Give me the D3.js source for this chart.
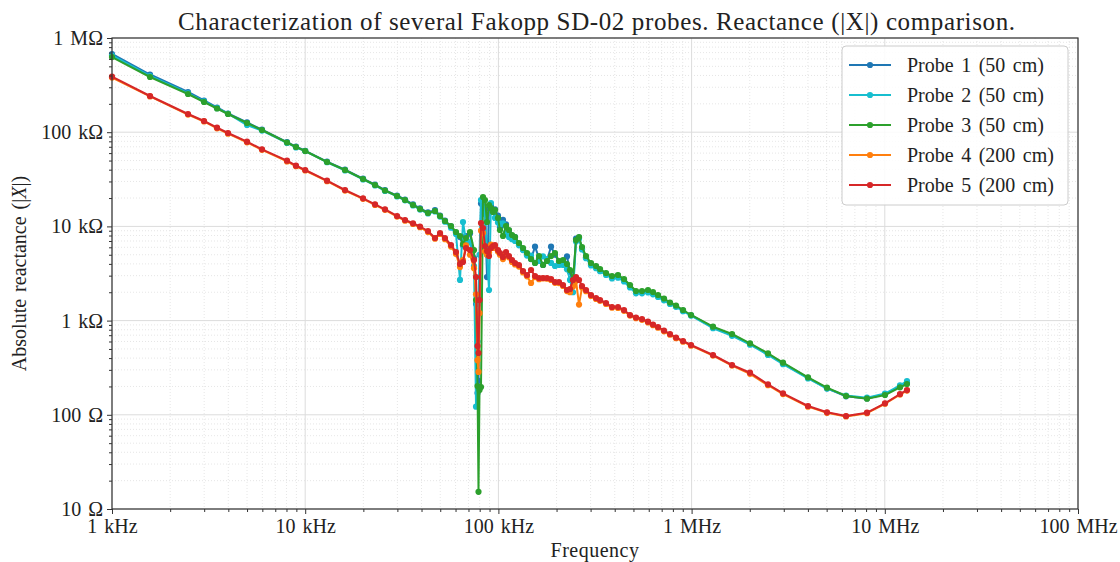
<!DOCTYPE html>
<html>
<head>
<meta charset="utf-8">
<script src="https://cdn.jsdelivr.net/npm/d3@7/dist/d3.min.js"></script>
<style>
  body { margin: 0; background: #fff; }
  text { font-family: "Liberation Serif", "DejaVu Serif", serif; fill: #222; }
</style>
</head>
<body>
<script>
var width = 1120,
    height = 562,
    margin = {top: 38, right: 42, bottom: 53, left: 112};

// sweep frequencies (kHz), shared by all probes
var freqKHz = [1.00, 1.573, 2.474, 2.994, 3.496, 3.985, 4.998, 5.975, 8.05, 8.96,
  10.0, 12.97, 16.07, 19.92, 22.98, 25.88, 29.88, 32.86, 36.14, 39.29,
  43.2, 46.97, 49.87, 52.9, 56.83, 60.32, 63.27, 65.58, 67.97, 71.29,
  74.77, 76.6, 77.97, 78.89, 79.84, 81.27, 83.24, 85.24, 87.3, 89.41,
  91.55, 93.76, 96.02, 99.5, 101.9, 105.6, 109.5, 113.4, 117.6, 121.9,
  127.8, 134.1, 140.6, 147.5, 154.7, 162.3, 170.2, 178.5, 187.3, 196.3,
  205.9, 216, 226.5, 234.8, 243.3, 252.2, 261.4, 270.9, 284.1, 301.5,
  320.1, 335.7, 360.6, 387.3, 415.9, 446.8, 479.9, 515.4, 553.6, 594.7,
  631.2, 670.1, 719.6, 773.0, 830.5, 902.8, 992.9, 1290.5, 1618.9, 2006,
  2485, 2972, 4004, 5021, 6300, 8089, 10023, 11988, 13026];

// absolute reactance |X| (ohm) for each probe
var probe1 = [676300, 409700, 267200, 217000, 183000, 158000, 127000, 106500, 78500, 70200,
  63500, 48600, 40100, 32200, 27800, 24300, 21200, 19300, 17100, 15500,
  14100, 14900, 13000, 11500, 10000, 8600, 7700, 6300, 7900, 8400,
  4600, 1500, 170, 230, 1870, 17500, 19500, 15000, 2900, 15500,
  16500, 14800, 15200, 13000, 9800, 11730, 10500, 9000, 8000, 7700,
  6500, 5700, 5100, 4500, 6090, 4600, 3900, 4400, 6090, 5000,
  4200, 4300, 4800, 3300, 2400, 7400, 7600, 5800, 4700, 4000,
  3750, 3450, 3150, 2900, 3000, 2700, 2330, 2020, 2000, 2050,
  1960, 1830, 1690, 1530, 1420, 1280, 1140, 850, 705, 565,
  440, 352, 247, 191, 157, 149, 165, 200, 218];

var probe2 = [652000, 395000, 259000, 212000, 180000, 157000, 119200, 104000, 77000, 69000,
  63000, 48000, 39300, 31500, 27200, 23800, 20800, 18900, 16700, 15100,
  13700, 14400, 12700, 11200, 9700, 8300, 2700, 11130, 7000, 6800,
  3800, 122, 600, 1500, 5000, 19070, 19800, 13500, 5000, 2113,
  17720, 14500, 12300, 11000, 10500, 10800, 8600, 7700, 7300, 7000,
  6300, 5600, 4900, 4900, 4100, 4300, 4800, 4500, 4100, 3800,
  3900, 3900, 3500, 2700, 2000, 6900, 7400, 5700, 4600, 3850,
  3600, 3350, 3050, 2800, 2850, 2600, 2250, 1950, 1950, 1990,
  1900, 1780, 1640, 1500, 1400, 1260, 1130, 830, 690, 555,
  432, 345, 243, 190, 160, 152, 168, 205, 228];

var probe3 = [628000, 385500, 254400, 209200, 178500, 156100, 125200, 105500, 77760, 69650,
  63160, 48280, 39690, 31860, 27510, 24050, 21020, 19070, 16880, 15300,
  13880, 14570, 12900, 11410, 10100, 8720, 7910, 6505, 7530, 8720,
  5617, 1655, 202, 15.2, 183, 197, 20510, 19070, 11130, 16880,
  15680, 14220, 14930, 12280, 9160, 7910, 10100, 9160, 8100, 7720,
  6665, 5898, 5220, 4507, 4088, 4852, 3892, 4293, 4852, 5220,
  4293, 4399, 3989, 3445, 2698, 7171, 7720, 6044, 4852, 4088,
  3798, 3530, 3201, 2975, 3049, 2764, 2387, 2062, 2062, 2113,
  2012, 1870, 1717, 1556, 1446, 1296, 1147, 861, 720.6, 574.1,
  449.7, 357.4, 250.2, 194, 158.3, 148.2, 162.3, 195.8, 212.3];

var probe4 = [380000, 240000, 154000, 130000, 110000, 96500, 78000, 65000, 49000, 43500,
  39200, 30200, 24000, 19600, 16900, 15000, 12700, 11500, 10600, 9800,
  8700, 7400, 8300, 7300, 6100, 5100, 3700, 4400, 6300, 5000,
  3600, 1900, 380, 285, 1200, 9000, 8500, 5400, 5000, 5300,
  6400, 5900, 6000, 5400, 5000, 4500, 5100, 4700, 4200, 3950,
  3750, 3250, 2950, 2507, 2900, 2750, 2800, 2780, 2700, 2520,
  2500, 2330, 2060, 2000, 2300, 2650, 1480, 2250, 2050, 1830,
  1700, 1620, 1500, 1370, 1360, 1270, 1130, 1060, 1020, 955,
  895, 840, 770, 708, 650, 598, 542, 425, 333, 272,
  206, 166, 122, 105, 96, 104, 131, 164, 181];

var probe5 = [388300, 242300, 156100, 131500, 111600, 98060, 79300, 65840, 49830, 44100,
  39690, 30560, 24340, 19880, 17160, 15190, 12900, 11690, 10790, 9975,
  8936, 7530, 8511, 7530, 6347, 5349, 3989, 4190, 5898, 5617,
  4399, 2903, 537.6, 453.1, 1655, 10870, 9616, 6194, 5482, 4852,
  5898, 6194, 6347, 5617, 5220, 4733, 5349, 4852, 4399, 4088,
  3892, 3361, 3049, 3445, 2975, 2833, 2833, 2833, 2764, 2569,
  2569, 2387, 2113, 2165, 2698, 2903, 2698, 2329, 2113, 1870,
  1738, 1655, 1537, 1394, 1394, 1296, 1147, 1079, 1040, 973.4,
  909, 855.2, 785, 720.6, 661.6, 607.4, 550.8, 431.3, 337.8, 279.8,
  210.8, 169.1, 124, 106.3, 97.1, 105.3, 132.5, 166.3, 183];

var probeNames = ['Probe 1 (50 cm)', 'Probe 2 (50 cm)', 'Probe 3 (50 cm)', 'Probe 4 (200 cm)', 'Probe 5 (200 cm)'];
var probeColors = ['#1f77b4', '#17becf', '#2ca02c', '#ff7f0e', '#d62728'];
var probeValues = [probe1, probe2, probe3, probe4, probe5];

var xTicks = [1e3, 1e4, 1e5, 1e6, 1e7, 1e8];
var xTickLabels = ['1 kHz', '10 kHz', '100 kHz', '1 MHz', '10 MHz', '100 MHz'];
var yTicks = [10, 100, 1e3, 1e4, 1e5, 1e6];
var yTickLabels = ['10 \u03a9', '100 \u03a9', '1 k\u03a9', '10 k\u03a9', '100 k\u03a9', '1 M\u03a9'];

var x = d3.scaleLog().domain([1e3, 1e8]).range([margin.left, width - margin.right]);
var y = d3.scaleLog().domain([10, 1e6]).range([height - margin.bottom, margin.top]);

function minors(ticks) {
  var out = [];
  for (var i = 0; i < ticks.length - 1; i++)
    for (var k = 2; k < 10; k++) out.push(ticks[i] * k);
  return out;
}
var xMinor = minors(xTicks), yMinor = minors(yTicks);

var svg = d3.select('body').append('svg')
    .attr('width', width)
    .attr('height', height);

var x0 = margin.left, x1 = width - margin.right,
    y0 = margin.top, y1 = height - margin.bottom;

// grid
var grid = svg.append('g');
grid.selectAll('.xm').data(xMinor).enter().append('line')
    .attr('x1', d => x(d)).attr('x2', d => x(d)).attr('y1', y0).attr('y2', y1)
    .attr('stroke', '#e0e0e0').attr('stroke-width', 0.8).attr('stroke-dasharray', '1,2');
grid.selectAll('.ym').data(yMinor).enter().append('line')
    .attr('y1', d => y(d)).attr('y2', d => y(d)).attr('x1', x0).attr('x2', x1)
    .attr('stroke', '#e0e0e0').attr('stroke-width', 0.8).attr('stroke-dasharray', '1,2');
grid.selectAll('.xM').data(xTicks).enter().append('line')
    .attr('x1', d => x(d)).attr('x2', d => x(d)).attr('y1', y0).attr('y2', y1)
    .attr('stroke', '#dcdcdc').attr('stroke-width', 1);
grid.selectAll('.yM').data(yTicks).enter().append('line')
    .attr('y1', d => y(d)).attr('y2', d => y(d)).attr('x1', x0).attr('x2', x1)
    .attr('stroke', '#dcdcdc').attr('stroke-width', 1);

// series
var line = d3.line()
    .x(function(d, i) { return x(freqKHz[i] * 1000); })
    .y(function(d) { return y(d); });

probeValues.forEach(function(vals, p) {
  var g = svg.append('g');
  g.append('path').datum(vals)
      .attr('d', line)
      .attr('fill', 'none')
      .attr('stroke', probeColors[p])
      .attr('stroke-width', 2)
      .attr('stroke-linejoin', 'round');
  g.selectAll('circle').data(vals).enter().append('circle')
      .attr('cx', function(d, i) { return x(freqKHz[i] * 1000); })
      .attr('cy', function(d) { return y(d); })
      .attr('r', 3.1)
      .attr('fill', probeColors[p]);
});

// axes
var xAxis = svg.append('g').attr('transform', 'translate(0,' + y1 + ')')
    .call(d3.axisBottom(x).tickValues(xTicks).tickFormat(function(d, i) { return xTickLabels[i]; }).tickSize(5).tickPadding(2));
svg.append('g').attr('transform', 'translate(0,' + y1 + ')')
    .call(d3.axisBottom(x).tickValues(xMinor).tickFormat('').tickSize(3));
var yAxis = svg.append('g').attr('transform', 'translate(' + x0 + ',0)')
    .call(d3.axisLeft(y).tickValues(yTicks).tickFormat(function(d, i) { return yTickLabels[i]; }).tickSize(5).tickPadding(4));
svg.append('g').attr('transform', 'translate(' + x0 + ',0)')
    .call(d3.axisLeft(y).tickValues(yMinor).tickFormat('').tickSize(3));

svg.selectAll('.domain').remove();
svg.selectAll('.tick line').attr('stroke', '#333');
svg.selectAll('.tick text').attr('font-size', 20).attr('font-family', '"Liberation Serif", serif')
    .attr('fill', '#222').attr('word-spacing', 2);
xAxis.selectAll('.tick text').attr('dy', '0.85em');

// frame
svg.append('rect')
    .attr('x', x0).attr('y', y0).attr('width', x1 - x0).attr('height', y1 - y0)
    .attr('fill', 'none').attr('stroke', '#333').attr('stroke-width', 1.2);

// labels
svg.append('text')
    .attr('x', 596.5).attr('y', 30)
    .attr('text-anchor', 'middle').attr('font-size', 25)
    .attr('textLength', 837).attr('lengthAdjust', 'spacing')
    .text('Characterization of several Fakopp SD-02 probes. Reactance (|X|) comparison.');

svg.append('text')
    .attr('x', (x0 + x1) / 2).attr('y', 557)
    .attr('text-anchor', 'middle').attr('font-size', 20).attr('letter-spacing', 0.5)
    .text('Frequency');

var yl = svg.append('text')
    .attr('transform', 'translate(26,' + ((y0 + y1) / 2) + ') rotate(-90)')
    .attr('text-anchor', 'middle').attr('font-size', 20).attr('word-spacing', 2);
yl.append('tspan').text('Absolute reactance (|');
yl.append('tspan').attr('font-style', 'italic').text('X');
yl.append('tspan').text('|)');

// legend
var legend = svg.append('g').attr('transform', 'translate(842,46)');
legend.append('rect')
    .attr('width', 226).attr('height', 159).attr('rx', 4)
    .attr('fill', '#fff').attr('fill-opacity', 0.85)
    .attr('stroke', '#ccc').attr('stroke-width', 1);

probeNames.forEach(function(name, i) {
  var row = legend.append('g').attr('transform', 'translate(0,' + (19 + i * 30) + ')');
  row.append('line').attr('x1', 7).attr('x2', 49).attr('y1', 0).attr('y2', 0)
      .attr('stroke', probeColors[i]).attr('stroke-width', 2);
  row.append('circle').attr('cx', 28).attr('cy', 0).attr('r', 3.1).attr('fill', probeColors[i]);
  row.append('text').attr('x', 65).attr('y', 7).attr('font-size', 20).attr('word-spacing', 2.5).text(name);
});
</script>
</body>
</html>
